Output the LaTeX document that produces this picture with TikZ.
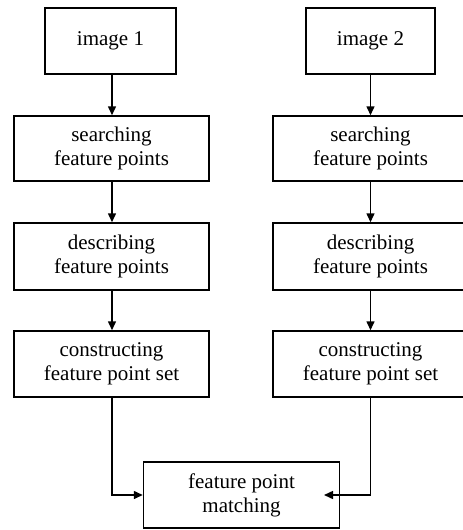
\documentclass[tikz,border=0pt]{standalone}
\usepackage{fontspec}
\setmainfont{Liberation Serif}
\usetikzlibrary{arrows.meta}
\begin{document}
\begin{tikzpicture}[x=1pt,y=-1pt,
  box/.style={draw, line width=1.5pt, inner sep=0pt, align=center,
    font=\fontsize{21}{24}\selectfont},
  conn/.style={line width=1.5pt, -{Triangle[length=9pt,width=8pt]}}]
\clip (0,0) rectangle (463,530);
\fill[white] (0,0) rectangle (463,530);
% left column
\node[box, minimum width=131pt, minimum height=66pt] (i1) at (110.5,41) {image 1};
\node[box, minimum width=195pt, minimum height=65pt] (s1) at (111.5,148.5) {searching\\feature points};
\node[box, minimum width=195pt, minimum height=67pt] (d1) at (111.5,256.5) {describing\\feature points};
\node[box, minimum width=195pt, minimum height=66pt] (c1) at (111.5,364) {constructing\\feature point set};
% right column
\node[box, minimum width=129pt, minimum height=66pt] (i2) at (370.5,41) {image 2};
\node[box, minimum width=195pt, minimum height=65pt] (s2) at (370.5,148.5) {searching\\feature points};
\node[box, minimum width=195pt, minimum height=67pt] (d2) at (370.5,256.5) {describing\\feature points};
\node[box, minimum width=195pt, minimum height=66pt] (c2) at (370.5,364) {constructing\\feature point set};
% bottom
\node[box, minimum width=196pt, minimum height=66pt] (m) at (241.5,495) {feature point\\matching};
\coordinate (mr) at (324,495);
% connectors
\draw[conn] (i1.south -| 112,0) -- (s1.north -| 112,0);
\draw[conn] (s1.south -| 112,0) -- (d1.north -| 112,0);
\draw[conn] (d1.south -| 112,0) -- (c1.north -| 112,0);
\draw[conn] (c1.south -| 112,0) |- (m.west);
\draw[conn] (i2.south) -- (i2.south |- s2.north);
\draw[conn] (s2.south) -- (d2.north);
\draw[conn] (d2.south) -- (c2.north);
\draw[conn] (c2.south) |- (mr);
\end{tikzpicture}
\end{document}
